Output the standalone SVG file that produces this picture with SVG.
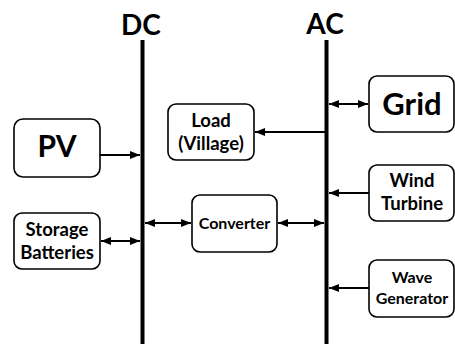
<svg xmlns="http://www.w3.org/2000/svg" width="455" height="344" viewBox="0 0 455 344">
  <style>
    .box { fill: #fff; stroke: #000; stroke-width: 1.6; }
    .bus { stroke: #000; stroke-width: 4; }
    .link { stroke: #000; stroke-width: 2; fill: none; }
    text { font-family: Lato, "Liberation Sans", sans-serif; font-weight: bold; fill: #000; text-anchor: middle; }
    .big { font-size: 30px; }
    .mid { font-size: 18.5px; }
    .small { font-size: 16px; }
  </style>
  <defs>
    <marker id="head" viewBox="0 0 10 8" refX="10" refY="4" markerWidth="5" markerHeight="4" orient="auto-start-reverse" markerUnits="strokeWidth">
      <path d="M0,0 L10,4 L0,8 Z" fill="#000"/>
    </marker>
  </defs>

  <!-- bus bars -->
  <g id="dc-bus">
    <line class="bus" x1="142.5" y1="40" x2="142.5" y2="344"/>
    <text x="141" y="35" font-size="28">DC</text>
  </g>
  <g id="ac-bus">
    <line class="bus" x1="326.5" y1="40" x2="326.5" y2="344"/>
    <text x="325" y="34" font-size="28">AC</text>
  </g>

  <!-- nodes -->
  <g id="pv">
    <rect class="box" x="14" y="119" width="86" height="58" rx="9"/>
    <text class="big" x="57" y="157">PV</text>
  </g>
  <g id="storage">
    <rect class="box" x="14" y="213" width="86" height="56" rx="8"/>
    <text class="mid" x="57" y="236">Storage</text>
    <text class="mid" x="57" y="259">Batteries</text>
  </g>
  <g id="load">
    <rect class="box" x="168" y="104" width="86" height="56" rx="8"/>
    <text class="mid" x="211" y="127">Load</text>
    <text class="mid" x="211" y="150">(Village)</text>
  </g>
  <g id="converter">
    <rect class="box" x="192" y="195" width="85" height="57" rx="8"/>
    <text class="small" x="234.5" y="229">Converter</text>
  </g>
  <g id="grid">
    <rect class="box" x="369" y="76" width="85" height="56" rx="8"/>
    <text x="412" y="115" font-size="31">Grid</text>
  </g>
  <g id="wind">
    <rect class="box" x="369" y="165" width="85" height="56" rx="8"/>
    <text class="mid" x="412" y="187">Wind</text>
    <text class="mid" x="412" y="210">Turbine</text>
  </g>
  <g id="wave">
    <rect class="box" x="369" y="260" width="85" height="57" rx="8"/>
    <text class="small" x="412" y="283">Wave</text>
    <text class="small" x="412" y="304">Generator</text>
  </g>

  <!-- connectors -->
  <g id="connectors">
    <line class="link" x1="100" y1="155" x2="140" y2="155" marker-end="url(#head)"/>
    <line class="link" x1="101" y1="241" x2="140" y2="241" marker-start="url(#head)" marker-end="url(#head)"/>
    <line class="link" x1="145" y1="223" x2="191" y2="223" marker-start="url(#head)" marker-end="url(#head)"/>
    <line class="link" x1="278" y1="223" x2="324" y2="223" marker-start="url(#head)" marker-end="url(#head)"/>
    <line class="link" x1="325" y1="132" x2="255" y2="132" marker-end="url(#head)"/>
    <line class="link" x1="329" y1="104" x2="368" y2="104" marker-start="url(#head)" marker-end="url(#head)"/>
    <line class="link" x1="369" y1="193" x2="329" y2="193" marker-end="url(#head)"/>
    <line class="link" x1="369" y1="288" x2="329" y2="288" marker-end="url(#head)"/>
  </g>
</svg>
